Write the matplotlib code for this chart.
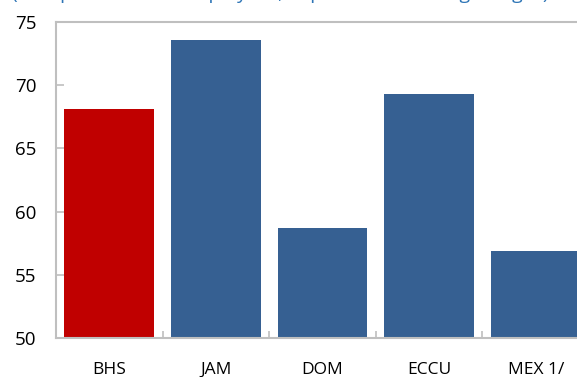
import matplotlib.pyplot as plt

countries = ["BHS", "JAM", "DOM", "ECCU", "MEX 1/"]
values = [68.1, 73.6, 58.7, 69.3, 56.9]
colors = ["#C00000", "#366092", "#366092", "#366092", "#366092"]

plt.rcParams['font.family'] = ['Open Sans', 'DejaVu Sans']

fig = plt.figure(figsize=(5.77, 3.77), dpi=100)
ax = fig.add_axes([0.097, 0.103, 0.924, 0.839])

ax.bar(range(len(countries)), values, width=0.84, color=colors, zorder=2)

ax.set_xlim(-0.5, 4.5)
ax.set_ylim(50, 75)
ax.set_yticks([50, 55, 60, 65, 70, 75])

ax.set_xticks(range(len(countries)))
ax.set_xticklabels(countries, fontsize=12.5)
ax.set_xticks([0.5, 1.5, 2.5, 3.5], minor=True)
ax.tick_params(axis="x", which="major", length=0, pad=17)
ax.tick_params(axis="x", which="minor", direction="in", length=5, color="#BFBFBF", width=1.2)
ax.tick_params(axis="y", direction="in", length=6, color="#BFBFBF", width=1.2, labelsize=13.5, pad=14)

for s in ["left", "bottom", "top", "right"]:
    ax.spines[s].set_color("#BFBFBF")
    ax.spines[s].set_linewidth(1.5)

# subtitle sits above the visible area, only its lower edge shows, as in the source image
fig.text(0.02, 1.002, "(Compensation of employees, in percent of average wages)",
         color="#2E75B6", fontsize=14, va="baseline")

fig.savefig("out.png", dpi=100)
